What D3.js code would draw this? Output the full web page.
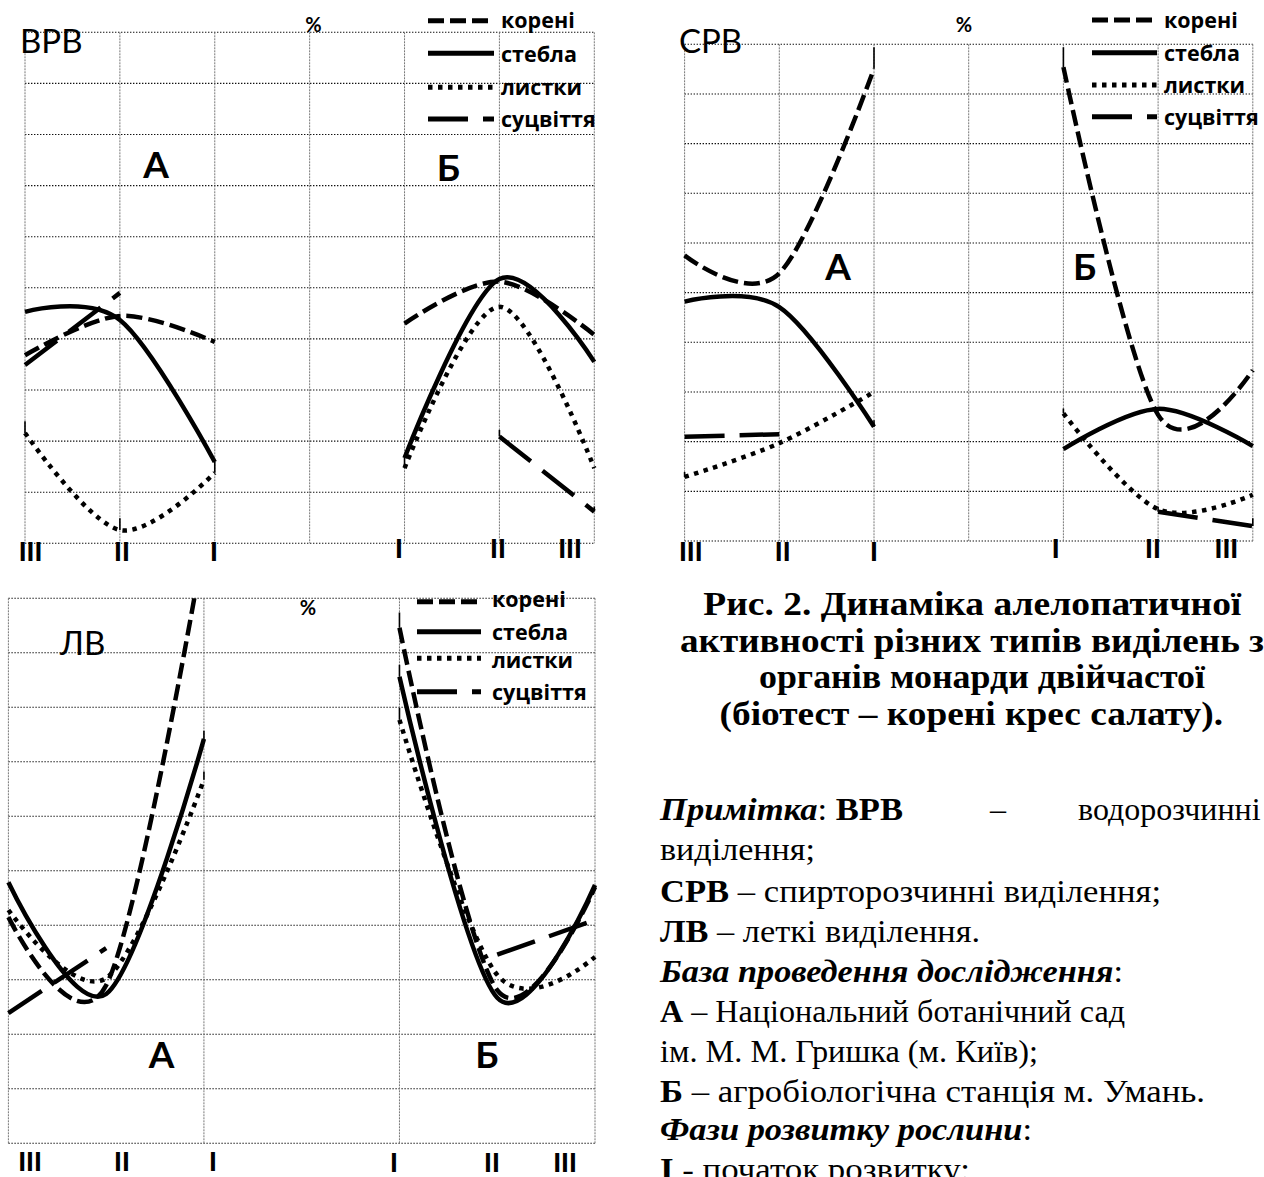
<!DOCTYPE html>
<html>
<head>
<meta charset="utf-8">
<script src="https://cdn.jsdelivr.net/npm/d3@7"></script>
<style>
  html, body { margin: 0; padding: 0; background: #fff; }
  svg { display: block; }
</style>
</head>
<body>
<svg id="fig" width="1264" height="1177"></svg>
<script>
// ---- data -------------------------------------------------------------
// phases of plant development along the mirrored x axis (А: III→I, Б: I→III)
const phaseLabels = ["III", "II", "I", "I", "II", "III"];
const organs = ["корені", "стебла", "листки", "суцвіття"];
const sites = ["А", "Б"];

// allelopathic activity, %; each row follows `organs`
// site А values are listed in phase order III, II, I
// site Б values are listed in phase order I, II, III
const vrvA = [[36.8, 44.5, 39.4], [45.3, 43.7, 15.9], [21.6, 2.6, 13.8], [34.9, 49.0, null]];
const vrvB = [[43.0, 51.2, 40.8], [16.7, 51.7, 35.5], [14.7, 46.3, 14.7], [null, 20.9, 6.2]];

const srvA = [[57.5, 53.9, 95.1], [48.2, 47.1, 23.0], [12.9, 19.7, 30.0], [21.0, 21.5, null]];
const srvB = [[95.4, 25.4, 34.4], [18.5, 26.6, 19.1], [25.7, 6.4, 9.3], [null, 5.9, 3.0]];

const lvA = [[41.5, 29.0, 110.0], [47.9, 27.4, 74.2], [42.8, 30.3, 66.7], [23.9, 35.8, null]];
const lvB = [[94.6, 28.1, 47.0], [85.6, 26.7, 47.4], [77.7, 30.9, 34.2], [null, 34.6, 41.0]];

// upper error bars, % (null where no bar is shown)
const vrvErrA = [[null, null, null], [null, null, null], [2.3, 2.3, 2.2], [null, null, null]];
const vrvErrB = [[null, null, null], [null, null, null], [2.1, null, null], [null, 1.3, 1.0]];
const srvErrA = [[null, null, 4.3], [null, null, 1.3], [1.0, null, null], [null, null, null]];
const srvErrB = [[4.0, null, null], [null, null, null], [1.0, null, null], [null, 1.0, 1.6]];
const lvErrA = [[null, null, null], [null, null, 1.5], [null, null, 1.5], [null, null, null]];
const lvErrB = [[2.8, null, null], [2.2, null, null], [2.2, null, null], [null, null, null]];

const yDomain = [0, 100];
const yTicks = d3.range(0, 101, 10);

// ---- figure caption and notes --------------------------------------------
const captionLines = [
  "Рис. 2. Динаміка алелопатичної",
  "активності різних типів виділень з",
  "органів монарди двійчастої",
  "(біотест – корені крес салату)."
];

// ---- layout ---------------------------------------------------------------
const svg = d3.select("#fig");
const FONT_SANS = "Lato, 'Open Sans', 'DejaVu Sans', sans-serif";
const FONT_LEG = "'Open Sans', Lato, 'DejaVu Sans', sans-serif";
const FONT_SERIF = "'Liberation Serif', 'DejaVu Serif', serif";

const lineStyle = {
  "корені":   { dash: "16,6" },
  "стебла":   { dash: null },
  "листки":   { dash: "4.5,5.5" },
  "суцвіття": { dash: "40,15" }
};
const LW = 4.5;

const panels = [
  {
    id: "vrv", title: "ВРВ", A: vrvA, B: vrvB, errA: vrvErrA, errB: vrvErrB,
    left: 25, right: 594.3, top: 32.3, bottom: 543.3, gridEvery: 1,
    titleAt: [20, 53], pctAt: [313.5, 31.7],
    siteAt: [[156, 178.3], [448.5, 181]],
    legend: { x0: 428, x1: 494, tx: 501, rows: [20.7, 53.3, 87.3, 119], base: [28.3, 61.7, 95, 126.7] },
    labelX: [30.5, 122, 214, 399, 498, 570], labelY: [561, 561, 561, 558, 558, 558]
  },
  {
    id: "srv", title: "СРВ", A: srvA, B: srvB, errA: srvErrA, errB: srvErrB,
    left: 684.6, right: 1252.8, top: 44.3, bottom: 541, gridEvery: 1,
    titleAt: [679, 53], pctAt: [964, 32],
    siteAt: [[838, 280], [1084.6, 280]],
    legend: { x0: 1092, x1: 1157, tx: 1164, rows: [20, 52.7, 85, 116.7], base: [28.3, 61, 92.7, 125] },
    labelX: [690.7, 782.7, 874, 1055.8, 1153, 1226.4], labelY: [561, 561, 561, 558, 558, 558]
  },
  {
    id: "lv", title: "ЛВ", A: lvA, B: lvB, errA: lvErrA, errB: lvErrB,
    left: 8.4, right: 595, top: 598.3, bottom: 1143.3, gridEvery: 2,
    titleAt: [60, 655], pctAt: [308, 615],
    siteAt: [[161.5, 1068], [487, 1068]],
    legend: { x0: 417, x1: 481, tx: 492, rows: [601.7, 631.7, 658.3, 691.7], base: [606.7, 640, 668.3, 700] },
    labelX: [30, 122, 213, 394, 492, 565], labelY: [1171, 1171, 1171, 1172, 1172, 1172]
  }
];

panels.forEach(p => {
  const g = svg.append("g").attr("class", "panel-" + p.id);
  const x = d3.scaleLinear().domain([0, 6]).range([p.left, p.right]);
  const y = d3.scaleLinear().domain(yDomain).range([p.bottom, p.top]);

  // horizontal grid (dotted black)
  g.append("g").selectAll("line").data(yTicks).join("line")
    .attr("x1", p.left).attr("x2", p.right)
    .attr("y1", d => y(d)).attr("y2", d => y(d))
    .attr("stroke", "#111").attr("stroke-width", 1.1)
    .attr("stroke-dasharray", "1.4,1.6");

  // vertical grid (fine grey dashes)
  const vTicks = d3.range(0, 7, p.gridEvery);
  g.append("g").selectAll("line").data(vTicks).join("line")
    .attr("x1", d => x(d)).attr("x2", d => x(d))
    .attr("y1", p.top).attr("y2", p.bottom)
    .attr("stroke", "#777").attr("stroke-width", 1)
    .attr("stroke-dasharray", "2,1");

  // clip area for the series
  const clipId = "clip-" + p.id;
  svg.append("clipPath").attr("id", clipId).append("rect")
    .attr("x", p.left - 3).attr("y", p.top)
    .attr("width", p.right - p.left + 6).attr("height", p.bottom - p.top);

  const line = d3.line()
    .x(d => x(d.slot))
    .y(d => y(d.v))
    .curve(d3.curveCardinal.tension(0));

  const series = [];
  const bars = [];
  organs.forEach((o, k) => {
    series.push({ organ: o, pts: p.A[k].map((v, i) => ({ slot: i, v })) });
    series.push({ organ: o, pts: p.B[k].map((v, i) => ({ slot: 4 + i, v })) });
    p.errA[k].forEach((e, i) => { if (e !== null) bars.push({ slot: i, v: p.A[k][i], e }); });
    p.errB[k].forEach((e, i) => { if (e !== null) bars.push({ slot: 4 + i, v: p.B[k][i], e }); });
  });

  const plot = g.append("g").attr("clip-path", `url(#${clipId})`);

  // upper error bars
  plot.append("g").selectAll("line").data(bars).join("line")
    .attr("x1", d => x(d.slot)).attr("x2", d => x(d.slot))
    .attr("y1", d => y(d.v)).attr("y2", d => y(d.v + d.e))
    .attr("stroke", "#000").attr("stroke-width", 1.6);

  plot.append("g").selectAll("path").data(series).join("path")
    .attr("d", d => line(d.pts.filter(q => q.v !== null)))
    .attr("fill", "none")
    .attr("stroke", "#000")
    .attr("stroke-width", LW)
    .attr("stroke-dasharray", d => lineStyle[d.organ].dash)
    .attr("stroke-linecap", "butt")
    .attr("stroke-linejoin", "round");

  // panel title
  g.append("text").attr("x", p.titleAt[0]).attr("y", p.titleAt[1])
    .attr("font-family", FONT_SANS).attr("font-size", 33)
    .text(p.title);

  // percent sign above the central axis
  g.append("text").attr("x", p.pctAt[0]).attr("y", p.pctAt[1])
    .attr("text-anchor", "middle")
    .attr("font-family", FONT_SANS).attr("font-weight", 700).attr("font-size", 20)
    .text("%");

  // site letters
  g.append("g").selectAll("text").data(sites).join("text")
    .attr("x", (d, i) => p.siteAt[i][0]).attr("y", (d, i) => p.siteAt[i][1])
    .attr("text-anchor", "middle")
    .attr("font-family", FONT_SANS).attr("font-weight", 700).attr("font-size", 37)
    .text(d => d);

  // phase labels under the axis
  g.append("g").selectAll("text").data(phaseLabels).join("text")
    .attr("x", (d, i) => p.labelX[i]).attr("y", (d, i) => p.labelY[i])
    .attr("text-anchor", "middle")
    .attr("font-family", FONT_SANS).attr("font-weight", 900).attr("font-size", 26)
    .text(d => d);

  // legend
  const lg = g.append("g");
  organs.forEach((o, k) => {
    lg.append("line")
      .attr("x1", p.legend.x0).attr("x2", p.legend.x1)
      .attr("y1", p.legend.rows[k]).attr("y2", p.legend.rows[k])
      .attr("stroke", "#000").attr("stroke-width", 5)
      .attr("stroke-dasharray", lineStyle[o].dash);
    lg.append("text")
      .attr("x", p.legend.tx).attr("y", p.legend.base[k])
      .attr("font-family", FONT_LEG).attr("font-weight", 700).attr("font-size", 21.5)
      .text(o);
  });
});

// ---- caption ----------------------------------------------------------------
const capLayout = [
  { cx: 972.3, w: 538 },
  { cx: 972, w: 584 },
  { cx: 982, w: 446 },
  { cx: 971.3, w: 503.5 }
];
const cap = svg.append("g").attr("font-family", FONT_SERIF)
  .attr("font-weight", 700).attr("font-size", 33).attr("text-anchor", "middle");
cap.selectAll("text").data(captionLines).join("text")
  .attr("x", (d, i) => capLayout[i].cx).attr("y", (d, i) => 615 + i * 36.7)
  .attr("textLength", (d, i) => capLayout[i].w)
  .attr("lengthAdjust", "spacingAndGlyphs")
  .text(d => d);

// ---- notes --------------------------------------------------------------------
// each line: runs of [text, style] (b = bold, i = italic), plus its set width
const notes = [
  { runs: [["Примітка", "bi"], [": ", ""], ["ВРВ", "b"]], w: 243 },
  { runs: [["виділення;", ""]], w: 155 },
  { runs: [["СРВ", "b"], [" – спирторозчинні виділення;", ""]], w: 501 },
  { runs: [["ЛВ", "b"], [" – леткі виділення.", ""]], w: 320 },
  { runs: [["База проведення дослідження", "bi"], [":", ""]], w: 463 },
  { runs: [["А", "b"], [" – Національний ботанічний сад", ""]], w: 465 },
  { runs: [["ім. М. М. Гришка (м. Київ);", ""]], w: 378 },
  { runs: [["Б", "b"], [" – агробіологічна станція м. Умань.", ""]], w: 545 },
  { runs: [["Фази розвитку рослини", "bi"], [":", ""]], w: 372 },
  { runs: [["І", "b"], [" - початок розвитку;", ""]], w: 310 }
];
const noteBase = [820, 860, 901.7, 941.7, 981.7, 1021.7, 1061.7, 1101.7, 1140, 1180];
const nt = svg.append("g").attr("font-family", FONT_SERIF).attr("font-size", 32);
notes.forEach((ln, li) => {
  const t = nt.append("text").attr("x", 660).attr("y", noteBase[li])
    .attr("xml:space", "preserve")
    .attr("textLength", ln.w).attr("lengthAdjust", "spacingAndGlyphs");
  ln.runs.forEach(r => {
    t.append("tspan").text(r[0])
      .attr("font-weight", r[1].includes("b") ? 700 : 400)
      .attr("font-style", r[1].includes("i") ? "italic" : "normal");
  });
});
// justified remainder of the first note line
nt.append("text").attr("x", 990).attr("y", noteBase[0]).text("–");
nt.append("text").attr("x", 1078).attr("y", noteBase[0]).text("водорозчинні");
</script>
</body>
</html>
